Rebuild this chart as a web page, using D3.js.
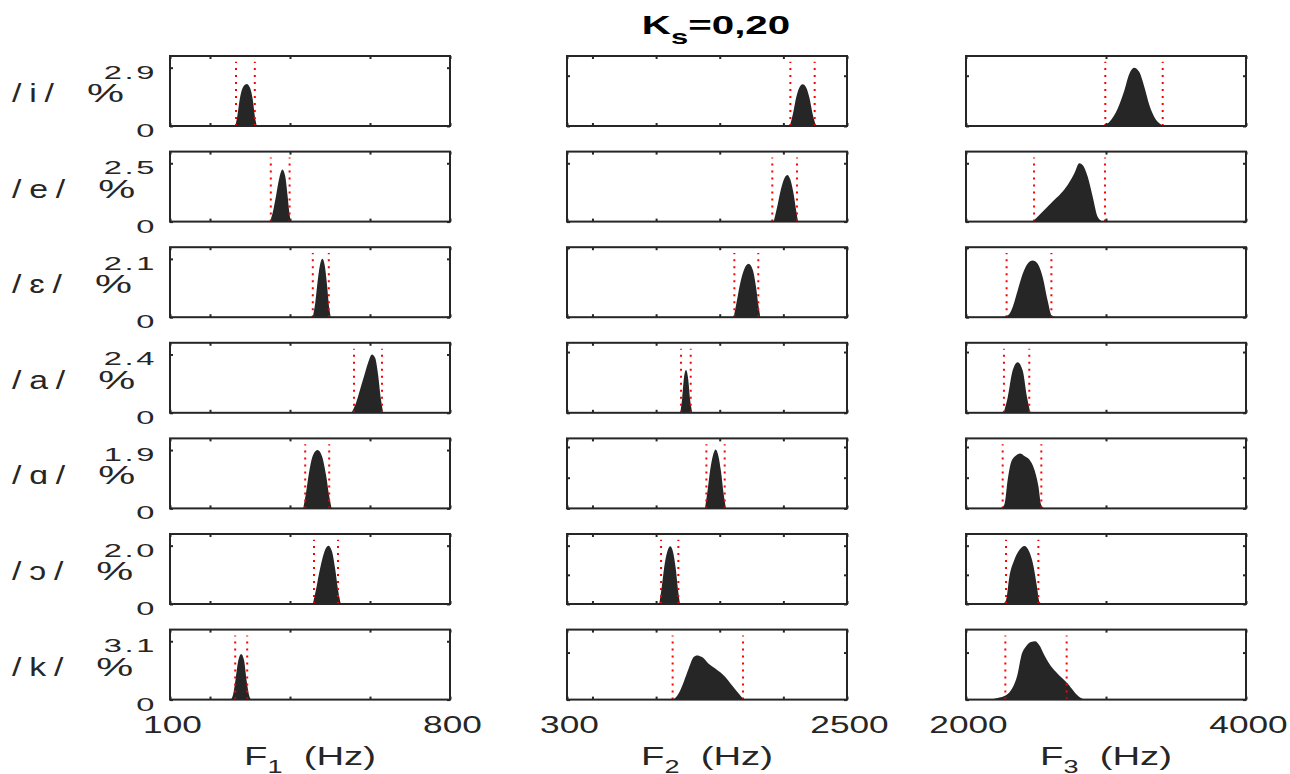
<!DOCTYPE html>
<html><head><meta charset="utf-8">
<script src="https://cdn.jsdelivr.net/npm/d3@7"></script>
<style>
html,body{margin:0;padding:0;background:#fff;}
svg{display:block;font-family:"Liberation Sans",Arial,Helvetica,sans-serif;}
</style></head><body>
<svg id="chart" width="1290" height="774"></svg>
<script>
// ---------- data ----------
const vowels = ["/i/", "/e/", "/ɛ/", "/a/", "/ɑ/", "/ɔ/", "/k/"];
const rowMax = [2.9, 2.5, 2.1, 2.4, 1.9, 2.0, 3.1];
const formantSubs = ["1", "2", "3"];
const colDomains = [[100, 800], [300, 2500], [2000, 4000]];
const colTicks = [[100, 200, 400, 600, 800], [300, 500, 1000, 1500, 2000, 2500], [2000, 3000, 4000]];
const colTickLabels = [["100", "", "", "", "800"], ["300", "", "", "", "", "2500"], ["2000", "", "4000"]];
const yTicksF23 = [[0, 2.5], [0, 2.5], [0, 2.5], [0, 2.5], [0, 1, 2], [0, 1, 2], [0, 2.5]];

const f1Freq = [
  [263, 268, 275, 283, 292, 300, 307, 312, 317],
  [350, 357, 365, 373, 381, 388, 394, 399, 402],
  [457, 463, 470, 476, 481, 487, 493, 498, 502],
  [554, 565, 575, 585, 595, 605, 613, 620, 627, 633],
  [433, 440, 448, 458, 469, 480, 490, 498, 504],
  [457, 465, 475, 485, 496, 505, 513, 520, 527],
  [252, 258, 264, 271, 278, 285, 291, 297, 302]
];
const f1Pct = [
  [0, 0.45, 1.4, 1.95, 2.09, 1.9, 1.3, 0.5, 0],
  [0, 0.4, 1.1, 1.85, 2.23, 1.95, 1.1, 0.3, 0],
  [0, 0.5, 1.4, 1.95, 2.1, 1.85, 1.1, 0.35, 0],
  [0, 0.4, 0.95, 1.5, 2.05, 2.4, 2.25, 1.6, 0.6, 0],
  [0, 0.5, 1.2, 1.75, 1.9, 1.7, 1.1, 0.4, 0],
  [0, 0.5, 1.2, 1.75, 2.0, 1.8, 1.2, 0.5, 0],
  [0, 0.3, 1.1, 2.1, 2.42, 2.1, 1.1, 0.3, 0]
];
const f1Lo = [265, 352, 457, 560, 438, 460, 263];
const f1Hi = [312, 399, 497, 630, 498, 520, 293];

const f2Freq = [
  [2050, 2075, 2100, 2125, 2152, 2180, 2205, 2230, 2257],
  [1924, 1950, 1975, 2000, 2031, 2055, 2080, 2100, 2115],
  [1610, 1635, 1660, 1690, 1727, 1760, 1785, 1805, 1819],
  [1190, 1205, 1218, 1235, 1252, 1266, 1285],
  [1384, 1405, 1425, 1445, 1468, 1490, 1510, 1530, 1549],
  [1025, 1045, 1065, 1088, 1112, 1135, 1155, 1172, 1188],
  [1138, 1177, 1217, 1256, 1295, 1321, 1361, 1413, 1465, 1544, 1596, 1649, 1688]
];
const f2Pct = [
  [0, 0.6, 1.4, 1.9, 2.07, 1.9, 1.4, 0.6, 0],
  [0, 0.6, 1.25, 1.75, 2.0, 1.8, 1.2, 0.5, 0],
  [0, 0.6, 1.2, 1.7, 1.92, 1.7, 1.1, 0.4, 0],
  [0, 0.6, 1.4, 1.76, 1.4, 0.6, 0],
  [0, 0.6, 1.25, 1.7, 1.92, 1.7, 1.2, 0.5, 0],
  [0, 0.6, 1.3, 1.8, 1.98, 1.75, 1.2, 0.5, 0],
  [0, 0.32, 0.94, 1.65, 2.26, 2.35, 2.26, 1.91, 1.65, 1.2, 0.76, 0.32, 0]
];
const f2Lo = [2055, 1913, 1615, 1196, 1395, 1039, 1130];
const f2Hi = [2246, 2107, 1803, 1272, 1539, 1175, 1683];

const f3Freq = [
  [2976, 3024, 3083, 3131, 3167, 3200, 3238, 3274, 3310, 3345, 3393, 3429],
  [2476, 2536, 2607, 2679, 2726, 2774, 2810, 2833, 2869, 2905, 2940, 2976],
  [2250, 2298, 2333, 2369, 2405, 2440, 2476, 2512, 2548, 2583, 2612, 2643],
  [2269, 2298, 2333, 2369, 2405, 2436, 2460],
  [2245, 2274, 2298, 2321, 2357, 2386, 2417, 2452, 2488, 2517, 2536, 2560],
  [2262, 2286, 2310, 2345, 2381, 2417, 2452, 2483, 2507, 2524, 2548],
  [2179, 2226, 2274, 2321, 2369, 2393, 2429, 2464, 2493, 2524, 2560, 2595, 2643, 2690, 2726, 2774, 2810, 2845]
];
const f3Pct = [
  [0, 0.2, 0.86, 1.77, 2.6, 2.9, 2.68, 1.94, 1.03, 0.45, 0.08, 0],
  [0, 0.36, 0.79, 1.21, 1.57, 2.07, 2.5, 2.43, 1.93, 1.07, 0.21, 0],
  [0, 0.06, 0.36, 0.96, 1.56, 1.92, 2.04, 1.92, 1.44, 0.6, 0.06, 0],
  [0, 0.64, 1.74, 2.08, 1.74, 0.64, 0],
  [0, 0.13, 0.94, 1.49, 1.72, 1.79, 1.71, 1.59, 1.27, 0.73, 0.13, 0],
  [0, 0.14, 0.94, 1.51, 1.85, 1.99, 1.79, 1.28, 0.59, 0.08, 0],
  [0, 0.09, 0.19, 0.5, 1.38, 2.27, 2.83, 3.06, 3.1, 2.89, 2.36, 1.91, 1.47, 1.12, 0.85, 0.41, 0.14, 0]
];
const f3Lo = [2995, 2486, 2290, 2271, 2262, 2286, 2281];
const f3Hi = [3405, 2993, 2610, 2452, 2538, 2517, 2719];

// ---------- layout ----------
const svg = d3.select("#chart");
const W = 280, H = 70;
const colX = [170, 567, 966];
const rowY = [56, 151.6, 247.2, 342.8, 438.4, 534, 629.6];
const ink = "#262626";
const freqs = [f1Freq, f2Freq, f3Freq];
const pcts = [f1Pct, f2Pct, f3Pct];
const los = [f1Lo, f2Lo, f3Lo];
const his = [f1Hi, f2Hi, f3Hi];

const defs = svg.append("defs");

function styleAxis(ag) {
  ag.attr("font-family", null).attr("font-size", null);
  ag.select(".domain").remove();
  ag.selectAll(".tick line").attr("stroke", ink).attr("stroke-width", 2);
}

vowels.forEach((v, r) => {
  const y = d3.scaleLinear().domain([0, rowMax[r] * 1.2]).range([H, 0]);
  for (let c = 0; c < 3; c++) {
    const x = d3.scaleLinear().domain(colDomains[c]).range([0, W]);
    const g = svg.append("g").attr("transform", `translate(${colX[c]},${rowY[r]})`);
    const cid = `clip-${r}-${c}`;
    defs.append("clipPath").attr("id", cid).append("rect").attr("width", W).attr("height", H);

    const fr = freqs[c][r];
    const area = d3.area()
      .x((d, i) => x(fr[i]))
      .y0(y(0))
      .y1(d => y(d))
      .curve(d3.curveMonotoneX);
    g.append("path").datum(pcts[c][r]).attr("d", area)
      .attr("fill", ink).attr("clip-path", `url(#${cid})`);

    [los[c][r], his[c][r]].forEach(val => {
      g.append("line")
        .attr("x1", x(val)).attr("x2", x(val))
        .attr("y1", y(0)).attr("y2", y(rowMax[r] * 1.1))
        .attr("stroke", "#ff0000").attr("stroke-width", 2)
        .attr("stroke-dasharray", "2,5");
    });

    // y axes
    const yt = c === 0 ? [0, rowMax[r]] : yTicksF23[r];
    const left = g.append("g").call(
      d3.axisLeft(y).tickValues(yt).tickSize(-3).tickSizeOuter(0)
        .tickFormat(d => c === 0 ? (d === 0 ? "0" : d.toFixed(1)) : ""));
    styleAxis(left);
    if (c === 0) {
      left.selectAll(".tick text")
        .attr("x", 0).attr("dy", 0).attr("y", 10.5)
        .attr("fill", ink).attr("font-size", 19).attr("text-anchor", "end")
        .style("letter-spacing", "1.5px")
        .attr("transform", "translate(-13,0) scale(1.72,1)");
    }
    const right = g.append("g").attr("transform", `translate(${W},0)`).call(
      d3.axisRight(y).tickValues(yt).tickSize(-3).tickSizeOuter(0).tickFormat(""));
    styleAxis(right);

    // x axes
    const bottom = g.append("g").attr("transform", `translate(0,${H})`).call(
      d3.axisBottom(x).tickValues(colTicks[c]).tickSize(-3).tickSizeOuter(0)
        .tickFormat((d, i) => r === 6 ? colTickLabels[c][i] : ""));
    styleAxis(bottom);
    if (r === 6) {
      bottom.selectAll(".tick text")
        .attr("x", 0).attr("dy", 0).attr("y", 33.5)
        .attr("fill", ink).attr("font-size", 23.5).attr("text-anchor", "middle")
        .attr("transform", "translate(2,0) scale(1.5,1)");
    }
    const top = g.append("g").call(
      d3.axisTop(x).tickValues(colTicks[c]).tickSize(-3).tickSizeOuter(0).tickFormat(""));
    styleAxis(top);

    g.append("rect").attr("width", W).attr("height", H)
      .attr("fill", "none").attr("stroke", ink).attr("stroke-width", 2);

    if (r === 6) {
      const lg = svg.append("g")
        .attr("transform", `translate(${colX[c] + W / 2},765) scale(1.5,1)`);
      const t = lg.append("text").attr("text-anchor", "middle")
        .attr("font-size", 25.5).attr("fill", ink).style("white-space", "pre");
      t.append("tspan").text("F");
      t.append("tspan").attr("font-size", 18).attr("dy", 8).text(formantSubs[c]);
      t.append("tspan").attr("dy", -8).text("  (Hz)");
    }
  }

  // row label and %
  const cy = rowY[r] + H / 2 + 11;
  const lab = svg.append("g").attr("transform", `translate(12,${cy}) scale(1.3,1)`);
  const lt = lab.append("text").attr("font-size", 26).attr("fill", ink)
    .style("letter-spacing", "6px").text(v);
  const lw = lt.node().getComputedTextLength() * 1.3 - 6 * 1.3;
  svg.append("g").attr("transform", `translate(${12 + lw + 33},${cy}) scale(1.6,1)`)
    .append("text").attr("font-size", 26).attr("fill", ink).text("%");
});

// title
const tg = svg.append("g").attr("transform", "translate(716,34.3) scale(1.55,1)");
const tt = tg.append("text").attr("text-anchor", "middle").attr("font-size", 26)
  .attr("font-weight", "bold").attr("fill", "#000");
tt.append("tspan").text("K");
tt.append("tspan").attr("font-size", 20).attr("dy", 10).text("s");
tt.append("tspan").attr("dy", -10).text("=0,20");
</script>
</body></html>
